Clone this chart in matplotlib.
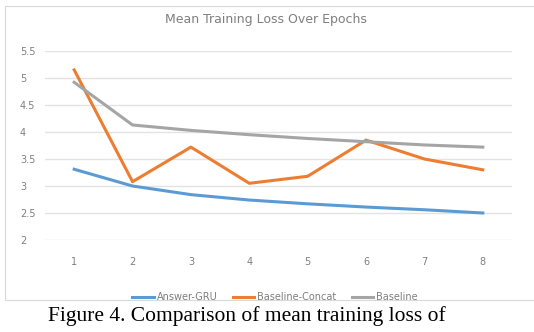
import numpy as np
import matplotlib
matplotlib.use('Agg')
import matplotlib.pyplot as plt
from matplotlib.patches import Rectangle

# Data
epochs = [1, 2, 3, 4, 5, 6, 7, 8]
answer_gru = [3.31, 3.00, 2.84, 2.74, 2.67, 2.61, 2.56, 2.50]
baseline_concat = [5.15, 3.08, 3.72, 3.05, 3.18, 3.85, 3.50, 3.30]
baseline = [4.92, 4.13, 4.03, 3.95, 3.88, 3.82, 3.76, 3.72]
y_ticks = [2, 2.5, 3, 3.5, 4, 4.5, 5, 5.5]
y_labels = ['2', '2.5', '3', '3.5', '4', '4.5', '5', '5.5']

W, H = 534, 332
fig = plt.figure(figsize=(W / 100, H / 100), dpi=100)
fig.patch.set_facecolor('white')

# chart frame (excel style)
fig.patches.append(Rectangle((5 / W, 1 - 300 / H), 540 / W, 294 / H,
                             transform=fig.transFigure, fill=False,
                             edgecolor='#d9d9d9', linewidth=0.8))

ax = fig.add_axes([45 / W, 1 - 240 / H, 467 / W, 189 / H])
ax.plot(epochs, answer_gru, color='#5B9BD5', linewidth=2.2, label='Answer-GRU')
ax.plot(epochs, baseline_concat, color='#ED7D31', linewidth=2.2, label='Baseline-Concat')
ax.plot(epochs, baseline, color='#A5A5A5', linewidth=2.2, label='Baseline')

ax.set_xlim(0.5, 8.5)
ax.set_ylim(2, 5.5)
ax.set_yticks(y_ticks)
ax.set_yticklabels(y_labels)
ax.set_xticks(epochs)
ax.grid(axis='y', color='#e3e3e3', linewidth=1)
ax.set_axisbelow(True)
for spine in ax.spines.values():
    spine.set_visible(False)
ax.tick_params(length=0, labelsize=7, labelcolor='#7f7f7f')
ax.tick_params(axis='x', pad=12)
ax.tick_params(axis='y', pad=18)
for lbl in ax.get_yticklabels():
    lbl.set_horizontalalignment('left')

fig.text(266 / W, 1 - 20 / H, 'Mean Training Loss Over Epochs', ha='center', va='center',
         fontsize=9, color='#7f7f7f')

fig.legend(loc='center', bbox_to_anchor=(275 / W, 1 - 297 / H), ncol=3, frameon=False,
           fontsize=7, labelcolor='#7f7f7f', handlelength=2.2, columnspacing=1.6,
           handletextpad=0.3)

fig.text(48 / W, 1 - 316 / H, 'Figure 4. Comparison of mean training loss of',
         ha='left', va='center', fontsize=15.5, family='Liberation Serif', color='black')

fig.savefig('out.png', dpi=100)
